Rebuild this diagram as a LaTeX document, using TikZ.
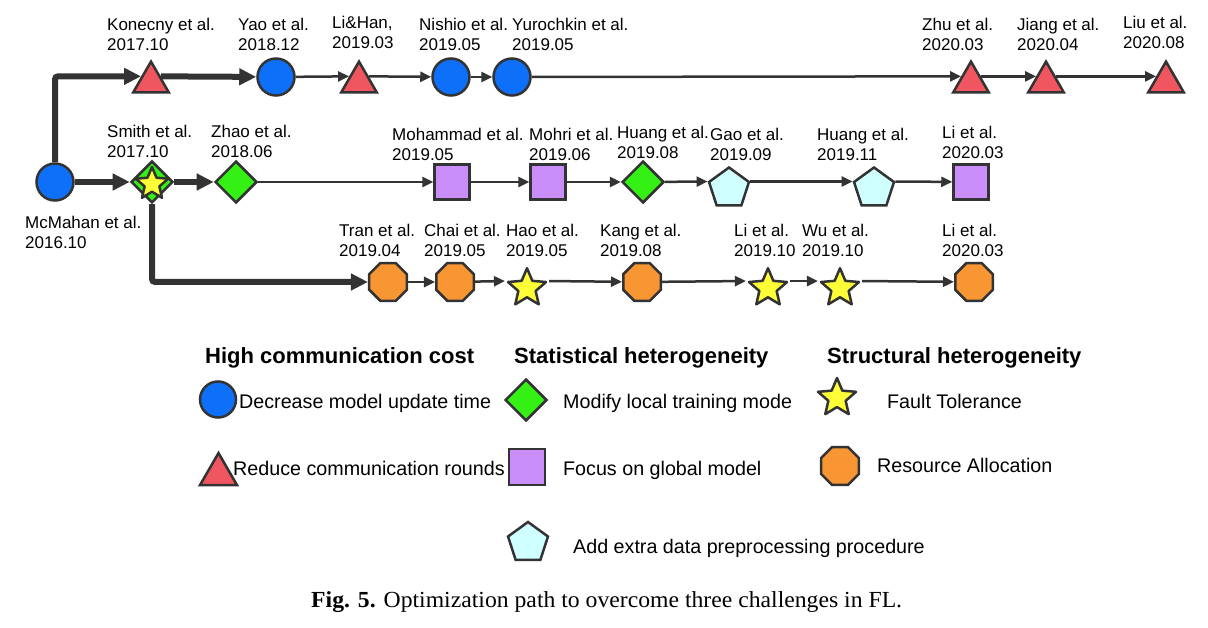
\documentclass[tikz,border=0pt]{standalone}
\usepackage{fontspec}
\setmainfont{Liberation Sans}
\newfontfamily\capfont[FakeStretch=1.03]{Liberation Serif}
\usetikzlibrary{shapes.geometric,arrows.meta}
\definecolor{cblue}{RGB}{14,112,248}
\definecolor{cred}{RGB}{240,86,96}
\definecolor{cgreen}{RGB}{52,240,20}
\definecolor{cpurple}{RGB}{202,142,250}
\definecolor{ccyan}{RGB}{208,255,255}
\definecolor{corange}{RGB}{248,150,52}
\definecolor{cyellow}{RGB}{255,255,56}
\definecolor{cline}{RGB}{51,51,51}
\tikzset{
  shp/.style={draw=cline, line width=2.5pt, inner sep=0pt},
  circ/.style={shp, circle, fill=cblue, minimum size=37pt},
  tri/.style={shp, regular polygon, regular polygon sides=3, fill=cred, minimum size=41pt},
  dia/.style={shp, diamond, fill=cgreen, minimum size=42pt},
  sq/.style={shp, rectangle, fill=cpurple, minimum size=35pt},
  pent/.style={shp, regular polygon, regular polygon sides=5, fill=ccyan, minimum size=42pt},
  oct/.style={shp, regular polygon, regular polygon sides=8, fill=corange, minimum size=40.6pt},
  st/.style={shp, star, star points=5, star point ratio=2.2, fill=cyellow, minimum size=40pt, line join=round},
  lbl/.style={font=\fontsize{17}{20}\selectfont, inner sep=0pt, align=left, anchor=base west},
  lgd/.style={font=\fontsize{19.7}{23}\selectfont, inner sep=0pt, anchor=base west},
  hd/.style={font=\fontsize{22}{26}\selectfont\bfseries, inner sep=0pt, anchor=base west},
  thk/.style={draw=cline, line width=6pt, -{Triangle[length=17pt,width=16pt]}, rounded corners=3pt},
  thn/.style={draw=cline, line width=2.5pt, -{Triangle[length=11pt,width=10pt]}},
}
\begin{document}
\begin{tikzpicture}[x=1pt,y=-1pt]
\fill[white] (0,0) rectangle (1208,628);
\useasboundingbox (0,0) rectangle (1208,628);

% ---- top row (line y = 77)
\node[circ] (mcm) at (55,182) {};
\node[tri] (kon) at (151,82.1) {};
\node[circ] (yao) at (276,77) {};
\node[tri] (lihan) at (359,82.1) {};
\node[circ] (nishio) at (451,77) {};
\node[circ] (yuro) at (512,77) {};
\node[tri] (zhu) at (971,82.1) {};
\node[tri] (jiang) at (1046,82.1) {};
\node[tri] (liu) at (1166,82.1) {};

% ---- middle row (line y = 182)
\node[dia] (smith) at (152,182) {};
\node[st, minimum size=34pt] (smithst) at (152,184) {};
\node[dia] (zhao) at (236,182) {};
\node[sq] (moh) at (452,182) {};
\node[sq] (mohri) at (548,182) {};
\node[dia] (huang) at (643,182) {};
\node[pent] (gao) at (729,188.5) {};
\node[pent] (huang2) at (874,188.5) {};
\node[sq] (li1) at (971,182) {};

% ---- bottom row (line y = 282)
\node[oct] (tran) at (388,282) {};
\node[oct] (chai) at (455,282) {};
\node[st] (hao) at (527,288.2) {};
\node[oct] (kang) at (642,282) {};
\node[st] (li2) at (768,288.2) {};
\node[st] (wu) at (840,288.2) {};
\node[oct] (li3) at (974,282) {};

% ---- labels (anchor = baseline of the second line)
\node[lbl] (kon-l) at (107,51) {Konecny et al.\\2017.10};
\node[lbl] (yao-l) at (238,51) {Yao et al.\\2018.12};
\node[lbl] (lihan-l) at (332,49) {Li\&Han,\\2019.03};
\node[lbl] (nishio-l) at (419,51) {Nishio et al.\\2019.05};
\node[lbl] (yuro-l) at (512,51) {Yurochkin et al.\\2019.05};
\node[lbl] (zhu-l) at (922,51) {Zhu et al.\\2020.03};
\node[lbl] (jiang-l) at (1017,51) {Jiang et al.\\2020.04};
\node[lbl] (liu-l) at (1123,49) {Liu et al.\\2020.08};
\node[lbl] (smith-l) at (107,158) {Smith et al.\\2017.10};
\node[lbl] (zhao-l) at (211,158) {Zhao et al.\\2018.06};
\node[lbl] (moh-l) at (392,161) {Mohammad et al.\\2019.05};
\node[lbl] (mohri-l) at (529,161) {Mohri et al.\\2019.06};
\node[lbl] (huang-l) at (617,159) {Huang et al.\\2019.08};
\node[lbl] (gao-l) at (710,161) {Gao et al.\\2019.09};
\node[lbl] (huang2-l) at (817,161) {Huang et al.\\2019.11};
\node[lbl] (li1-l) at (942,159) {Li et al.\\2020.03};
\node[lbl] (mcm-l) at (25,249) {McMahan et al.\\2016.10};
\node[lbl] (tran-l) at (339,257) {Tran et al.\\2019.04};
\node[lbl] (chai-l) at (424,257) {Chai et al.\\2019.05};
\node[lbl] (hao-l) at (506,257) {Hao et al.\\2019.05};
\node[lbl] (kang-l) at (600,257) {Kang et al.\\2019.08};
\node[lbl] (li2-l) at (734,257) {Li et al.\\2019.10};
\node[lbl] (wu-l) at (802,257) {Wu et al.\\2019.10};
\node[lbl] (li3-l) at (942,257) {Li et al.\\2020.03};

% ---- connectors
\draw[thk] (mcm.north) |- (kon.side 1);
\draw[thk] (kon.side 3) -- (yao);
\draw[thk] (mcm) -- (smith);
\draw[thk] (smith) -- (zhao);
\draw[thk] (smith.south) |- (tran);

\draw[thn] (yao) -- (lihan.side 1);
\draw[thn] (lihan.side 3) -- (nishio);
\draw[thn] (nishio) -- (yuro);
\draw[thn] (yuro) -- (zhu.side 1);
\draw[thn] (zhu.side 3) -- (jiang.side 1);
\draw[thn] (jiang.side 3) -- (liu.side 1);

\draw[thn] (zhao) -- (moh);
\draw[thn] (moh) -- (mohri);
\draw[thn] (mohri) -- (huang);
\draw[thn] (huang) -- (gao.corner 2);
\draw[thn] (gao.corner 5) -- (huang2.corner 2);
\draw[thn] (huang2.corner 5) -- (li1);

\draw[thn] (tran) -- (chai);
\draw[thn] (chai) -- (hao.outer point 2);
\draw[thn] (hao.outer point 5) -- (kang);
\draw[thn] (kang) -- (li2.outer point 2);
\draw[thn] (li2.outer point 5) -- (wu.outer point 2);
\draw[thn] (wu.outer point 5) -- (li3);

% ---- legend
\node[hd] (h1) at (205,364) {High communication cost};
\node[hd] (h2) at (514,363) {Statistical heterogeneity};
\node[hd] (h3) at (827,363) {Structural heterogeneity};

\node[circ, minimum size=36pt] (lg1) at (218,399.5) {};
\node[lgd] (lt1) at (239,408) {Decrease model update time};
\node[tri, minimum size=42.7pt] (lg2) at (218.5,474.4) {};
\node[lgd] (lt2) at (233,475) {Reduce communication rounds};
\node[dia] (lg3) at (526,400) {};
\node[lgd] (lt3) at (563,408) {Modify local training mode};
\node[sq, minimum size=36pt] (lg4) at (527,467) {};
\node[lgd] (lt4) at (563,475) {Focus on global model};
\node[st] (lg5) at (837,398) {};
\node[lgd] (lt5) at (887,408) {Fault Tolerance};
\node[oct, minimum size=41pt] (lg6) at (840,466) {};
\node[lgd] (lt6) at (877,472) {Resource Allocation};
\node[pent] (lg7) at (528,543) {};
\node[lgd] (lt7) at (573,553) {Add extra data preprocessing procedure};

% ---- caption
\node[inner sep=0pt, anchor=base west, font=\capfont\fontsize{23}{27}\selectfont] (cap) at (311,607)
  {\textbf{Fig. 5.}\hspace{8pt}Optimization path to overcome three challenges in FL.};
\end{tikzpicture}
\end{document}
